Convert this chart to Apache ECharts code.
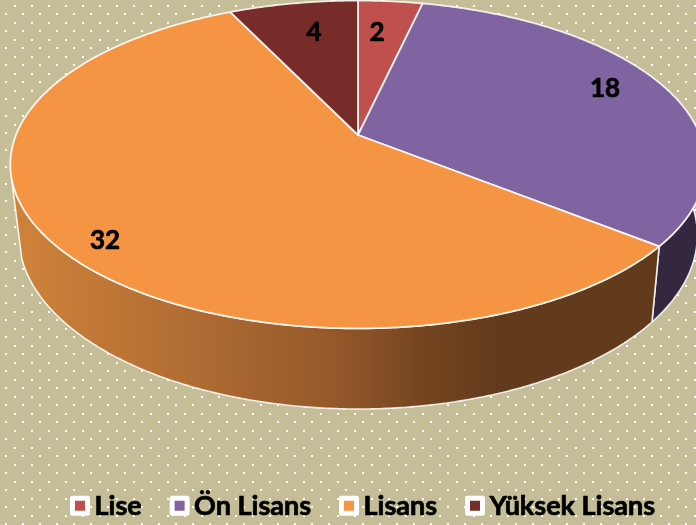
<!DOCTYPE html>
<html>
<head>
<meta charset="utf-8">
<style>html,body{margin:0;padding:0;background:#c4bd97}#c{width:696px;height:525px}</style>
<script src="https://cdn.jsdelivr.net/npm/echarts@6/dist/echarts.min.js"></script>
</head>
<body>
<div id="c"></div>
<script>
const categories = ['Lise', 'Ön Lisans', 'Lisans', 'Yüksek Lisans'];
const values = [2, 18, 32, 4];
const topColors = ['#c0504d', '#8064a2', '#f59543', '#772c2a'];

// Projective view of a tilted disc
const AX = 358, AY = 135, PERSP = 0.18, BX = 342, BY = 158.6;
const WALL_SX = 0.976, WALL_Y0 = 204, WALL_SY = 1.06;
// Visible side-wall spans in degrees [top rim end, bottom rim end], by category
const wallSpans = {1: [90, 90], 2: [255, 252]};
const labelAnchors = [[377, 33], [605, 89], [105, 241], [314, 33]];
const EDGE = 'rgba(255,255,255,0.85)';

const total = values.reduce((a, b) => a + b, 0);
function topPoint(deg, r) {
  const t = deg * Math.PI / 180, u = r * Math.sin(t), v = r * Math.cos(t), w = 1 + PERSP * v;
  return [AX + BX * u / w, AY - BY * v / w];
}
function wallPoint(deg) {
  const p = topPoint(deg, 1);
  return [AX + (p[0] - AX) * WALL_SX, WALL_Y0 + (p[1] - AY) * WALL_SY];
}
function arc(fn, a, b) {
  const n = Math.max(2, Math.ceil(Math.abs(b - a) * 2)), out = [];
  for (let i = 0; i <= n; i++) out.push(fn(a + (b - a) * i / n));
  return out;
}
const orangeWall = new echarts.graphic.LinearGradient(10, 0, 653, 0, [
  {offset: 0, color: '#d08339'},
  {offset: 0.26, color: '#b36e34'},
  {offset: 0.5, color: '#95592a'},
  {offset: 0.64, color: '#754520'},
  {offset: 0.76, color: '#623a1c'},
  {offset: 1, color: '#623a1c'}
], true);
const wallFills = {1: '#33283f', 2: orangeWall};

function makeRender(idx) {
  const before = values.slice(0, idx).reduce((a, b) => a + b, 0);
  return function (params, api) {
    const start = before / total * 360;
    const end = (before + api.value(0)) / total * 360;
    const children = [];
    if (wallSpans[idx]) {
      let pts;
      if (idx === 1) {
        pts = arc(d => topPoint(d, 1), 85, end).concat(arc(wallPoint, end, 85));
      } else {
        const s = wallSpans[idx];
        pts = arc(d => topPoint(d, 1), start, s[0]).concat(arc(wallPoint, s[1], start));
      }
      children.push({type: 'polygon', shape: {points: pts},
        style: {fill: wallFills[idx], stroke: EDGE, lineWidth: 1.6, lineJoin: 'round'}});
    }
    const top = [[AX, AY]].concat(arc(d => topPoint(d, 1), start, end));
    children.push({type: 'polygon', shape: {points: top},
      style: {fill: topColors[idx], stroke: EDGE, lineWidth: 1.8, lineJoin: 'round'}});
    return {type: 'group', children: children};
  };
}
function makeLabelRender(idx) {
  return function (params, api) {
    return {type: 'text', x: labelAnchors[idx][0], y: labelAnchors[idx][1],
      style: {text: String(api.value(0)), textAlign: 'center', textVerticalAlign: 'middle',
        fill: '#000', stroke: '#000', lineWidth: 0.7, font: 'bold 26px Lato'}};
  };
}

const tile = document.createElement('canvas');
tile.width = 17; tile.height = 17;
const g = tile.getContext('2d');
g.fillStyle = '#c4bd97'; g.fillRect(0, 0, 17, 17);
g.fillStyle = '#ffffff';
g.fillRect(14, 5, 2, 2);
g.fillRect(5, 13, 2, 2);

const chart = echarts.init(document.getElementById('c'), null, {renderer: 'canvas'});
chart.setOption({
  animation: false,
  backgroundColor: {image: tile, repeat: 'repeat'},
  legend: {
    data: categories, left: 65, top: 487, icon: 'rect',
    itemWidth: 15, itemHeight: 15, itemGap: 27.6, selectedMode: false,
    itemStyle: {borderColor: '#fff', borderWidth: 5, borderJoin: 'round'},
    textStyle: {fontFamily: 'Lato', fontWeight: 'bold', fontSize: 27, color: '#000',
      textBorderColor: '#000', textBorderWidth: 0.7, padding: [0, 0, 0, 2]}
  },
  series: categories.map((name, i) => ({
    type: 'custom', name: name, coordinateSystem: 'none', silent: true,
    itemStyle: {color: topColors[i]}, data: [[values[i]]], renderItem: makeRender(i), z: 2
  })).concat(categories.map((name, i) => ({
    type: 'custom', coordinateSystem: 'none', silent: true,
    data: [[values[i]]], renderItem: makeLabelRender(i), z: 3
  })))
});
</script>
</body>
</html>
